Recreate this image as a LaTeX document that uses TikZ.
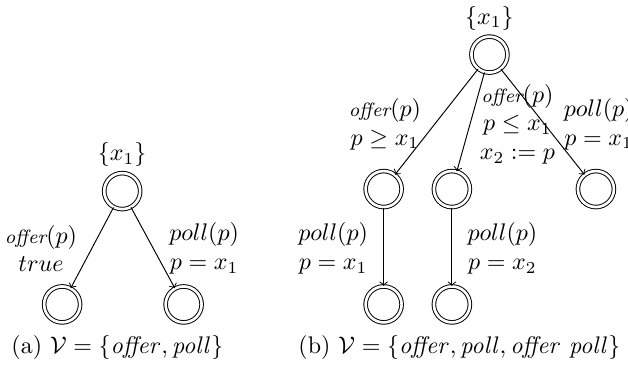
\documentclass[tikz,border=0pt]{standalone}
\usepackage{amsmath,amssymb}
\usepackage{tikz}
\usetikzlibrary{positioning,calc}

\newcommand{\offerlbl}{{\footnotesize\itshape offer}$(p)$}

\begin{document}
\begin{tikzpicture}[
    state/.style={circle, draw, double, double distance=1.1pt, minimum size=15pt, inner sep=0pt},
    arrow/.style={->, >=to, thin},
    lbl/.style={align=center, inner sep=1pt},
    capt/.style={inner sep=1pt}
]
\useasboundingbox (0,0) rectangle (9.2,5.35);

% (a) two variables
\node[state, label={[label distance=-1pt]above:{$\{x_1\}$}}] (a0) at (1.79, 2.55) {};
\node[state] (a1) at (0.91, 0.89) {};
\node[state] (a2) at (2.69, 0.89) {};

\draw[arrow] (a0) -- (a1);
\draw[arrow] (a0) -- (a2);

\node[lbl] (la1) at (0.60, 1.71) {\offerlbl\\$true$};
\node[lbl] (la2) at (2.99, 1.71) {$poll(p)$\\$p = x_1$};

\node[capt] (capa) at (1.72, 0.26) {(a) $\mathcal{V} = \{\mathit{offer}, \mathit{poll}\}$};

% (b) three variables
\node[state, label={[label distance=-1pt]above:{$\{x_1\}$}}] (b0) at (7.17, 4.55) {};
\node[state] (b1) at (5.62, 2.58) {};
\node[state] (b2) at (6.62, 2.58) {};
\node[state] (b3) at (8.73, 2.58) {};
\node[state] (b4) at (5.62, 0.89) {};
\node[state] (b5) at (6.62, 0.89) {};

\draw[arrow] (b0) -- (b1);
\draw[arrow] (b0) -- (b2);
\draw[arrow] (b0) -- (b3);
\draw[arrow] (b1) -- (b4);
\draw[arrow] (b2) -- (b5);

\node[lbl] (lb1) at (5.64, 3.53) {\offerlbl\\$p \geq x_1$};
\node[lbl] (lb2) at (7.58, 3.53) {\offerlbl\\$p \leq x_1$\\$x_2 := p$};
\node[lbl] (lb3) at (8.77, 3.53) {$poll(p)$\\$p = x_1$};
\node[lbl] (lb4) at (4.88, 1.71) {$poll(p)$\\$p = x_1$};
\node[lbl] (lb5) at (7.36, 1.71) {$poll(p)$\\$p = x_2$};

\node[capt] (capb) at (6.73, 0.26) {(b) $\mathcal{V} = \{\mathit{offer}, \mathit{poll}, \mathit{offer\ poll}\}$};

\end{tikzpicture}
\end{document}
